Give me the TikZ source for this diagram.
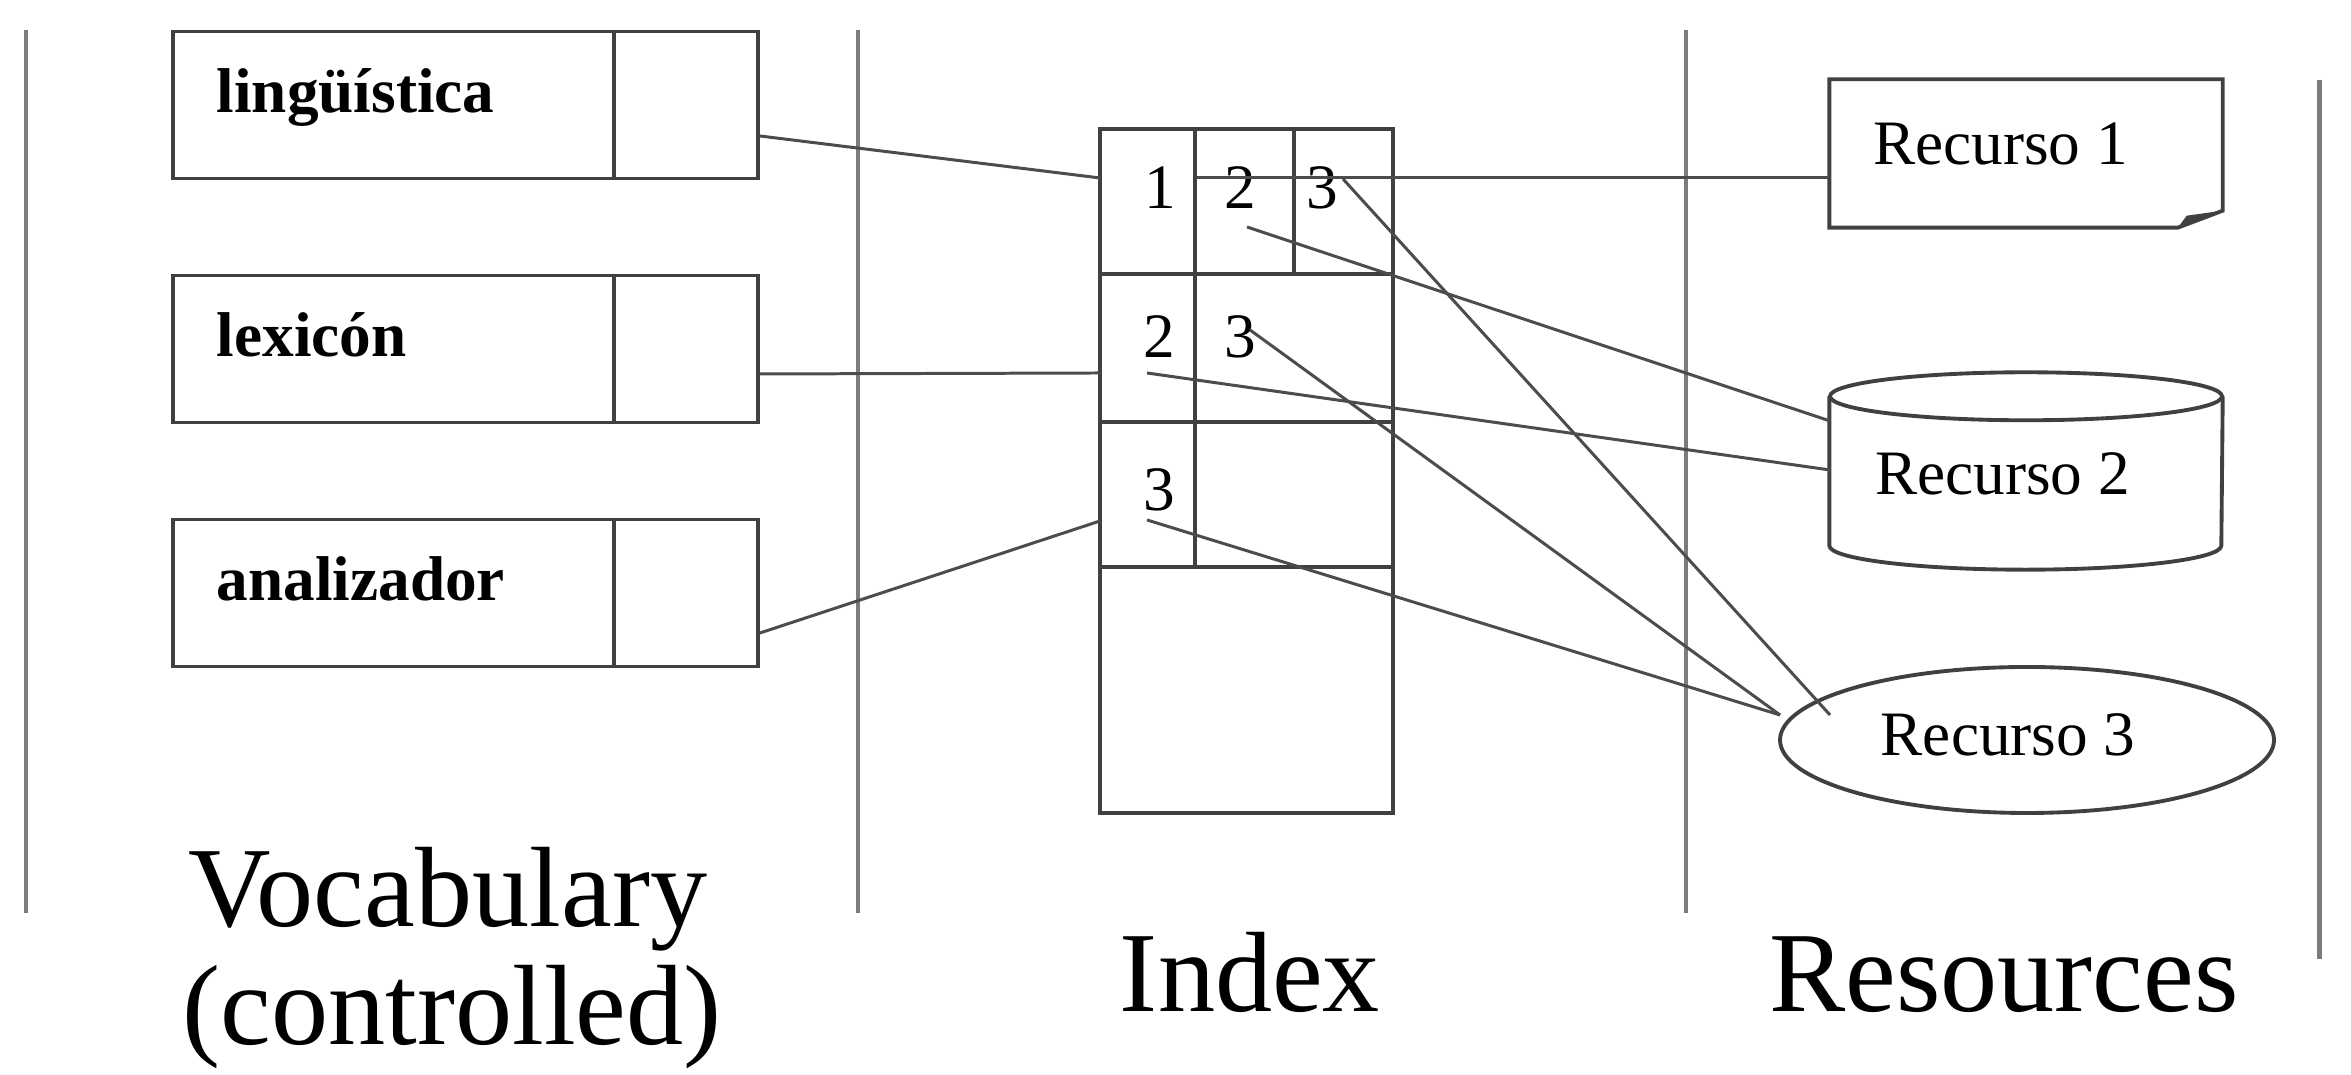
\documentclass[tikz,border=0pt]{standalone}
\usepackage{fontspec}
\setmainfont{Liberation Serif}
\usetikzlibrary{shapes.geometric, positioning}
\definecolor{sepgray}{HTML}{7C7C7C}
\definecolor{boxgray}{HTML}{404040}
\definecolor{linkgray}{HTML}{4C4C4C}

\begin{document}
\begin{tikzpicture}
  \tikzset{
    sepline/.style={draw=sepgray, line width=1.4pt},
    boxline/.style={draw=boxgray, line width=1.1pt},
    link/.style={draw=linkgray, line width=0.85pt},
    vocbox/.style={boxline, rectangle, minimum width=5.85cm, minimum height=1.47cm, inner sep=0pt},
    idxbox/.style={boxline, rectangle, minimum width=2.93cm, minimum height=6.84cm, inner sep=0pt},
    resarea/.style={rectangle, minimum width=3.92cm, minimum height=#1, inner sep=0pt},
    resarea/.default=1.47cm,
    voclabel/.style={font=\fontsize{18}{20}\selectfont\bfseries, inner sep=0pt},
    restext/.style={font=\fontsize{18}{20}\selectfont, inner sep=0pt},
    digit/.style={font=\fontsize{18}{20}\selectfont, inner sep=0pt},
    title/.style={font=\fontsize{32.5}{38}\selectfont, inner sep=0pt}
  }
  \useasboundingbox (0,0) rectangle (23.51,10.75);

  \foreach \x/\t/\b in {0.26/10.45/1.62, 8.58/10.45/1.62, 16.86/10.45/1.62, 23.19/9.95/1.16}
    \draw[sepline] (\x,\t) -- (\x,\b);

  \foreach \n/\y/\w in {1/9.70/lingüística, 2/7.26/lexicón, 3/4.82/analizador}{
    \node[vocbox] (v\n) at (4.655,\y) {};
    \draw[boxline] ([xshift=-1.46cm]v\n.north east) -- ([xshift=-1.46cm]v\n.south east);
    \node[voclabel, anchor=base west] (l\n) at ([xshift=0.45cm, yshift=-0.83cm]v\n.north west) {\w};
  }

  \node[idxbox] (idx) at (12.465,6.04) {};
  \foreach \d in {1.47,2.95,4.40}
    \draw[boxline] ([yshift=-\d cm]idx.north west) -- ([yshift=-\d cm]idx.north east);
  \draw[boxline] ([xshift=0.97cm]idx.north west) -- ++(0,-4.40);
  \draw[boxline] ([xshift=1.96cm]idx.north west) -- ++(0,-1.47);

  \node[digit] (d11) at (11.60,8.87) {1};
  \node[digit] (d12) at (12.40,8.87) {2};
  \node[digit] (d13) at (13.22,8.87) {3};
  \node[digit] (d21) at (11.59,7.38) {2};
  \node[digit] (d22) at (12.40,7.38) {3};
  \node[digit] (d31) at (11.59,5.85) {3};

  \node[resarea] (r1) at (20.26,9.215) {};
  \draw[boxline] (r1.north west) -- (r1.north east) -- ([yshift=0.17cm]r1.south east)
    -- ([xshift=-0.45cm]r1.south east) -- (r1.south west) -- cycle;
  \fill[boxgray] ([xshift=-0.45cm]r1.south east) -- ([xshift=-0.36cm, yshift=0.12cm]r1.south east)
    -- ([yshift=0.17cm]r1.south east) -- cycle;
  \node[restext, anchor=base west] (t1) at ([xshift=0.43cm, yshift=-0.85cm]r1.north west) {Recurso 1};

  \node[resarea=1.96cm] (r2) at (20.26,6.04) {};
  \draw[boxline] ([yshift=-0.24cm]r2.north west) -- ([yshift=0.24cm]r2.south west)
    arc[start angle=180, end angle=360, x radius=1.96cm, y radius=0.24cm]
    -- ([yshift=-0.24cm]r2.north east);
  \draw[boxline] ([yshift=-0.24cm]r2.north) ellipse [x radius=1.96cm, y radius=0.24cm];
  \node[restext, anchor=base west] (t2) at ([xshift=0.45cm, yshift=-1.22cm]r2.north west) {Recurso 2};

  \node[boxline, ellipse, minimum width=4.94cm, minimum height=1.46cm, inner sep=0pt] (r3) at (20.27,3.35) {};
  \node[restext, anchor=base west] (t3) at (18.80,3.19) {Recurso 3};

  \coordinate (in1) at (11.00,8.97);
  \coordinate (in2) at (11.00,7.02);
  \coordinate (in3) at (11.00,5.54);
  \coordinate (p11) at (11.97,8.97);
  \coordinate (p12) at (12.47,8.48);
  \coordinate (p13) at (13.43,8.96);
  \coordinate (p21) at (11.47,7.02);
  \coordinate (p22) at (12.50,7.45);
  \coordinate (p31) at (11.47,5.55);
  \coordinate (e2a) at (18.30,6.54);
  \coordinate (e2b) at (18.30,6.05);
  \coordinate (e3a) at (18.30,3.60);
  \coordinate (e3b) at (17.80,3.60);

  \draw[link] ([yshift=-0.31cm]v1.east) -- (in1);
  \draw[link] ([yshift=-0.25cm]v2.east) -- (in2);
  \draw[link] ([yshift=-0.40cm]v3.east) -- (in3);
  \draw[link] (p11) -- (r1.west |- p11);
  \draw[link] (p12) -- (e2a);
  \draw[link] (p13) -- (e3a);
  \draw[link] (p21) -- (e2b);
  \draw[link] (p22) -- (e3b);
  \draw[link] (p31) -- (e3b);

  \node[title, anchor=base] (vocab) at (4.48,1.48) {Vocabulary};
  \node[title, anchor=base] (vocabsub) at (4.52,0.30) {(controlled)};
  \node[title, anchor=base] (index) at (12.50,0.63) {Index};
  \node[title, anchor=base] (resources) at (20.04,0.63) {Resources};
\end{tikzpicture}
\end{document}
